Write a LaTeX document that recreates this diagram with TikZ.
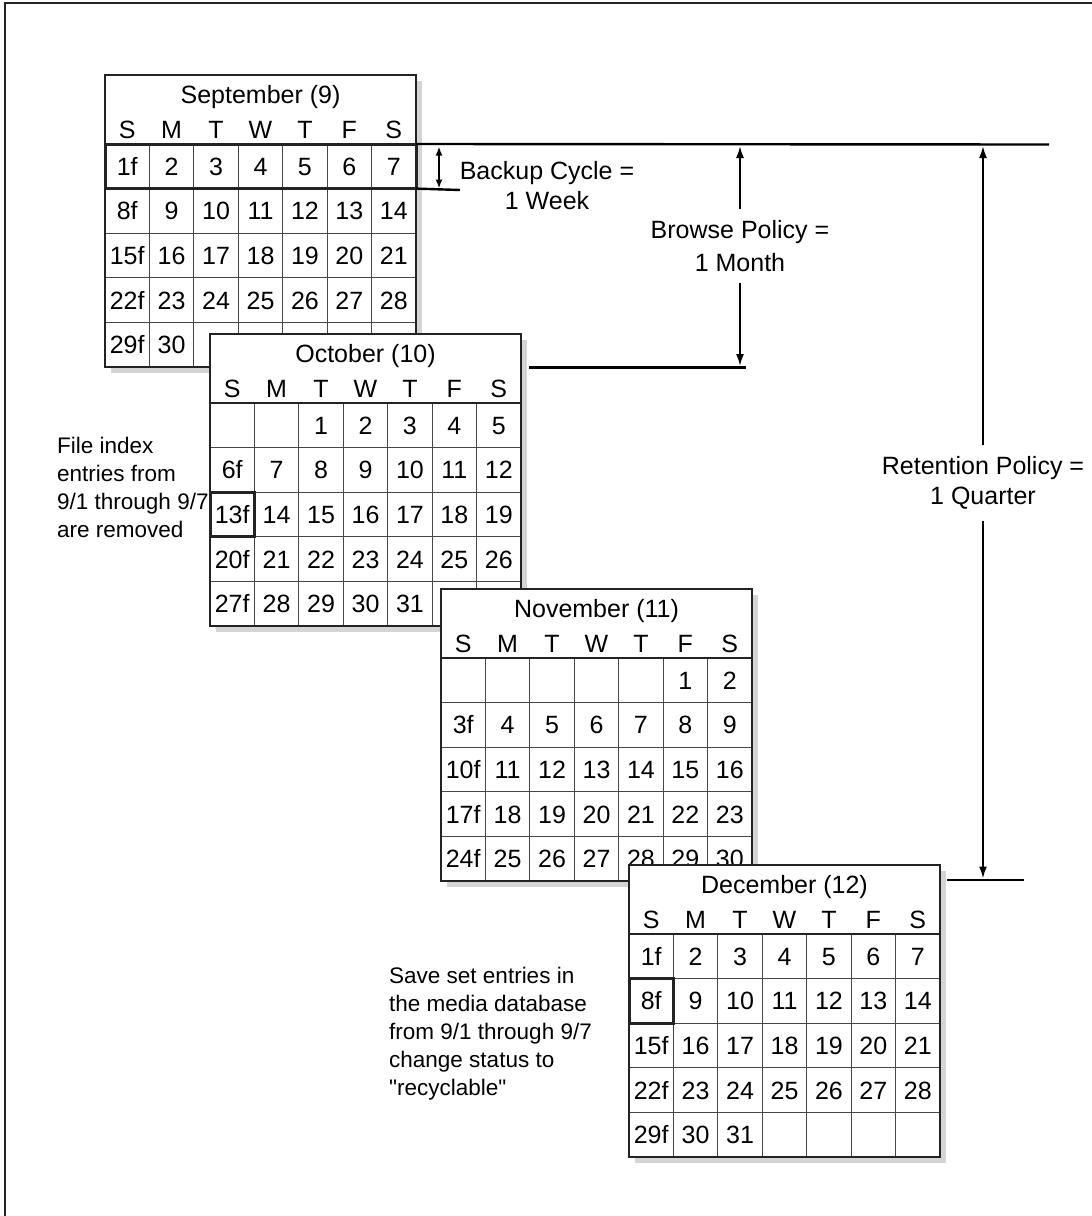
\documentclass[tikz,border=0pt]{standalone}
\usepackage{fontspec}
\setmainfont{Liberation Sans}
\usetikzlibrary{arrows.meta, positioning, calc}
\definecolor{borde}{RGB}{35,35,35}
\definecolor{rejilla}{RGB}{70,70,70}
\definecolor{sombra}{RGB}{212,212,212}
\tikzset{
  marco/.style={draw=borde, line width=2.6pt},
  marca/.style={draw=borde, line width=3pt},
  celda/.style={draw=rejilla, line width=1.1pt, anchor=north west, inner sep=0pt, outer sep=0pt,
                minimum width=44.43pt, minimum height=44.6pt, text height=17.9pt, text depth=0pt,
                font=\fontsize{25}{29}\selectfont},
  mestxt/.style={anchor=base, inner sep=0pt, font=\fontsize{25}{29}\selectfont},
  nota/.style={align=left, inner sep=0pt, anchor=north west, font=\fontsize{22.5}{28}\selectfont},
  politica/.style={align=center, inner xsep=0pt, inner ysep=11pt, font=\fontsize{25}{30}\selectfont},
  linea/.style={draw=black, line width=2.4pt},
  flecha/.style={-{Latex[length=12pt, width=8pt]}, line width=2pt},
  doble/.style={{Latex[length=9pt, width=7pt]}-{Latex[length=9pt, width=7pt]}, line width=2pt}
}
% one month sheet: name, top-left corner, title, 35 cells
\newcommand{\monthgrid}[4]{%
  \begin{scope}[shift={#2}]
    \fill[sombra] (6,6) rectangle (317,298);
    \fill[white] (0,0) rectangle (311,292);
    \node[mestxt] (#1-mes) at (155.5,28) {#3};
    \foreach \w [count=\i from 0] in {S,M,T,W,T,F,S}
      \node[mestxt] (#1-w\i) at ({22.21+44.43*\i},63) {\w};
    \foreach \t [count=\n from 0] in {#4} {
      \pgfmathtruncatemacro\cc{mod(\n,7)}
      \pgfmathtruncatemacro\rr{div(\n,7)}
      \node[celda] (#1-\n) at ({44.43*\cc},{69+44.6*\rr}) {\t};
    }
    \draw[marco] (0,0) rectangle (311,292);
    \draw[marco] (0,69) -- (311,69);
  \end{scope}}

\begin{document}
\begin{tikzpicture}[x=1pt, y=-1pt]
  \useasboundingbox (0,0) rectangle (1092,1216);
  \draw[borde, line width=2pt] (4.5,1216) -- (4.5,2.5) -- (1092,2.5);

  % the four months
  \monthgrid{sep}{(105,75)}{September (9)}
    {1f,2,3,4,5,6,7,8f,9,10,11,12,13,14,15f,16,17,18,19,20,21,
     22f,23,24,25,26,27,28,29f,30,{},{},{},{},{}}
  \draw[marca] (sep-0.north west) rectangle (sep-6.south east);

  \monthgrid{oct}{(210,334)}{October (10)}
    {{},{},1,2,3,4,5,6f,7,8,9,10,11,12,13f,14,15,16,17,18,19,
     20f,21,22,23,24,25,26,27f,28,29,30,31,{},{}}
  \draw[marca] (oct-14.north west) rectangle (oct-14.south east);

  \monthgrid{nov}{(441,589)}{November (11)}
    {{},{},{},{},{},1,2,3f,4,5,6,7,8,9,10f,11,12,13,14,15,16,
     17f,18,19,20,21,22,23,24f,25,26,27,28,29,30}

  \monthgrid{dic}{(629,865)}{December (12)}
    {1f,2,3,4,5,6,7,8f,9,10,11,12,13,14,15f,16,17,18,19,20,21,
     22f,23,24,25,26,27,28,29f,30,31,{},{},{},{}}
  \draw[marca] (dic-7.north west) rectangle (dic-7.south east);

  % reference lines
  \coordinate (tope) at (1049,144.5);
  \coordinate (bk-fin) at (460,190);
  \coordinate (br-izq) at (529,367.5);
  \coordinate (br-der) at (746,367.5);
  \coordinate (rt-izq) at (947,880);
  \coordinate (rt-der) at (1024,880);
  \draw[linea] (sep-6.north east) -- (tope);
  \draw[linea] (sep-6.south east) -- (bk-fin);
  \draw[linea] (br-izq) -- (br-der);
  \draw[linea] (rt-izq) -- (rt-der);

  % backup cycle
  \coordinate (bk-a) at (439,146.5);
  \coordinate (bk-b) at (439,188.5);
  \draw[doble] (bk-a) -- (bk-b);
  \node[politica] (backup) at (547,186) {Backup Cycle =\\1 Week};

  % browse policy
  \node[politica] (browse) at (740,246) {Browse Policy =\\[3pt]1 Month};
  \coordinate (br-top) at (740,146);
  \coordinate (br-bot) at (740,366);
  \draw[flecha] (browse.north) -- (br-top);
  \draw[flecha] (browse.south) -- (br-bot);

  % retention policy
  \node[politica] (reten) at (983,483) {Retention Policy =\\1 Quarter};
  \coordinate (rt-top) at (983,146);
  \coordinate (rt-bot) at (983,878.5);
  \draw[flecha] (reten.north) -- (rt-top);
  \draw[flecha] (reten.south) -- (rt-bot);

  % notes
  \node[nota] (fileidx) at (57,437) {File index\\entries from\\9/1 through 9/7\\are removed};
  \node[nota] (saveset) at (389,967)
    {Save set entries in\\the media database\\from 9/1 through 9/7\\change status to\\\textquotedbl recyclable\textquotedbl};
\end{tikzpicture}
\end{document}
